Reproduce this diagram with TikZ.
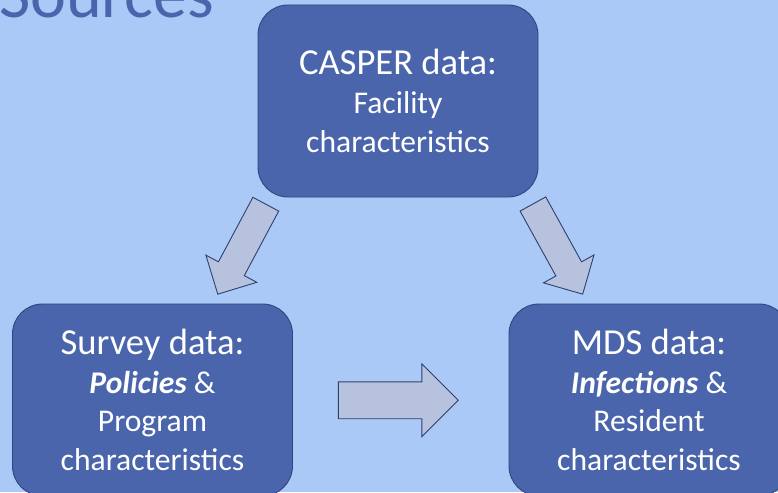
\documentclass[tikz,border=0pt]{standalone}
\usepackage{fontspec}
\setmainfont{Carlito}
\usetikzlibrary{shapes.arrows}
\definecolor{bgblue}{RGB}{170,201,246}
\definecolor{boxblue}{RGB}{74,101,172}
\definecolor{boxline}{RGB}{47,70,125}
\definecolor{arrowfill}{RGB}{183,194,222}
\definecolor{arrowline}{RGB}{47,64,110}
\definecolor{titleblue}{RGB}{74,101,172}
% larger size for the first line of each box
\newcommand\boxhead{\fontsize{36.6}{40}\selectfont}
\tikzset{
  sourcebox/.style={draw=boxline, line width=0.9pt, fill=boxblue, rounded corners=30pt,
    minimum width=280pt, minimum height=192pt, inner sep=0pt, align=center,
    text=white, font=\fontsize{31.6}{38.6}\selectfont},
  flowarrow/.style={shape=single arrow, draw=arrowline, line width=0.9pt, fill=arrowfill,
    inner xsep=0pt, outer sep=0pt, anchor=tail,
    single arrow head extend=#1, single arrow tip angle=90}
}
\begin{document}
\begin{tikzpicture}[x=1pt,y=-1pt]
  \useasboundingbox (0,0) rectangle (778,492);
  \fill[bgblue] (0,0) rectangle (778,492);

  % title, partly above the page edge
  \node[anchor=base west, inner sep=0pt, text=titleblue, font=\fontsize{68}{72}\selectfont]
    (title) at (-1,18) {Sources};

  % the three data sources
  \node[sourcebox] (casper) at (398,101)
    {{\boxhead CASPER data:}\\Facility\\characteristics};
  \node[sourcebox] (survey) at (152.5,400)
    {{\boxhead Survey data:}\\\textbf{\textit{Policies}} \&\\Program\\characteristics};
  \node[sourcebox] (mds) at (649,400)
    {{\boxhead MDS data:}\\\textbf{\textit{Infections}} \&\\Resident\\characteristics};

  % block arrows between the sources, placed by their tails
  \node[flowarrow=14.2pt, inner ysep=14.2pt, minimum height=102pt, rotate=241.9]
    (a1) at (265.8,204.2) {};
  \node[flowarrow=14.2pt, inner ysep=14.2pt, minimum height=103pt, rotate=298.9]
    (a2) at (532.9,204) {};
  \node[flowarrow=18pt, inner ysep=18pt, minimum height=120pt]
    (a3) at (338.3,400.3) {};
\end{tikzpicture}
\end{document}
